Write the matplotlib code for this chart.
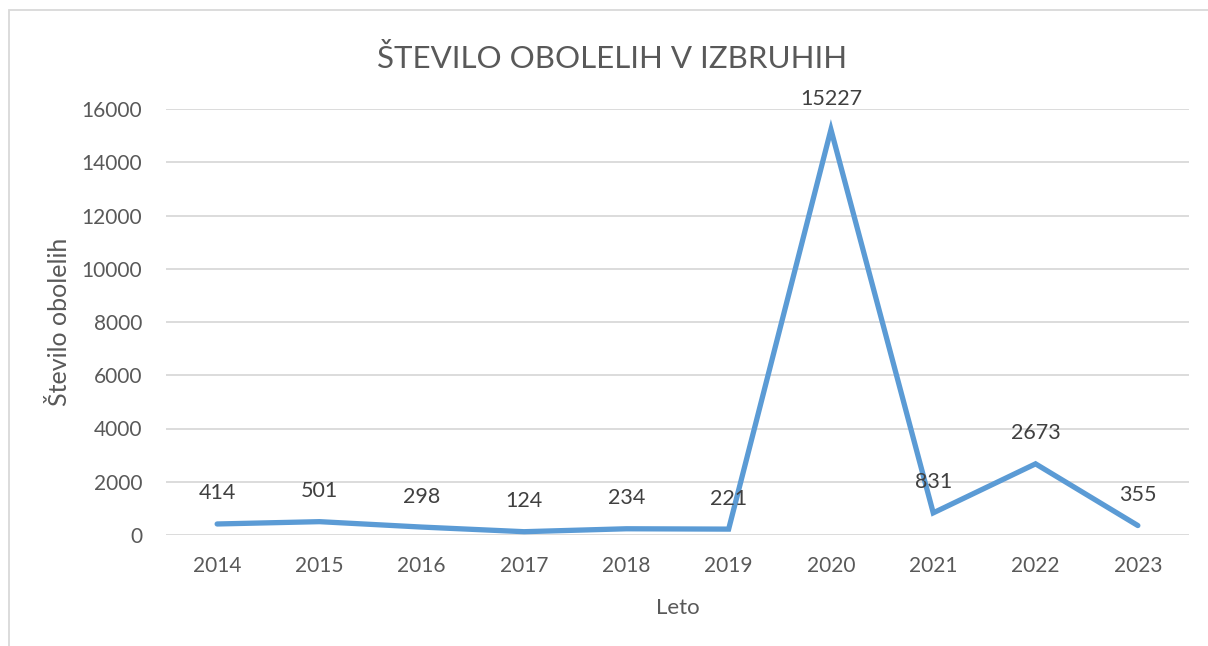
import matplotlib.pyplot as plt
from matplotlib.patches import Rectangle

plt.rcParams['font.family'] = ['Lato', 'DejaVu Sans']

leta = ['2014', '2015', '2016', '2017', '2018', '2019', '2020', '2021', '2022', '2023']
oboleli = [414, 501, 298, 124, 234, 221, 15227, 831, 2673, 355]
y_ticks = [0, 2000, 4000, 6000, 8000, 10000, 12000, 14000, 16000]

siva = '#595959'
modra = '#5B9BD5'

fig = plt.figure(figsize=(12.08, 6.46), dpi=100)
ax = fig.add_axes([166 / 1208, 1 - 535 / 646, 1023 / 1208, 426 / 646])

x = list(range(len(leta)))
ax.plot(x, oboleli, color=modra, linewidth=3.8, solid_capstyle='round', solid_joinstyle='miter', zorder=3)

for xi, v in zip(x, oboleli):
    ax.annotate(str(v), (xi, v), xytext=(0, 22), textcoords='offset points',
                ha='center', va='center', fontsize=15.5, color='#404040')

ax.set_xlim(-0.5, len(leta) - 0.5)
ax.set_ylim(0, 16000)
ax.set_yticks(y_ticks)
ax.set_xticks(x)
ax.set_xticklabels(leta)
ax.tick_params(length=0, labelsize=15, colors=siva)
ax.tick_params(axis='x', pad=15)
ax.tick_params(axis='y', pad=17)
ax.grid(axis='y', color='#D9D9D9', linewidth=1.3)
ax.set_axisbelow(True)
for s in ax.spines.values():
    s.set_visible(False)

ax.set_ylabel('Število obolelih', fontsize=18, color=siva, labelpad=8)
ax.set_xlabel('Leto', fontsize=16, color=siva, labelpad=16)
fig.text(612 / 1208, 1 - 58 / 646, 'ŠTEVILO OBOLELIH V IZBRUHIH', ha='center', va='center',
         fontsize=22.5, color=siva)

# okvir grafikona
fig.patches.append(Rectangle((8.5 / 1208, -0.1), 1.2, 1 - 10.5 / 646 + 0.1, transform=fig.transFigure,
                             fill=False, edgecolor='#D9D9D9', linewidth=1.3))

fig.savefig('out.png', dpi=100)
